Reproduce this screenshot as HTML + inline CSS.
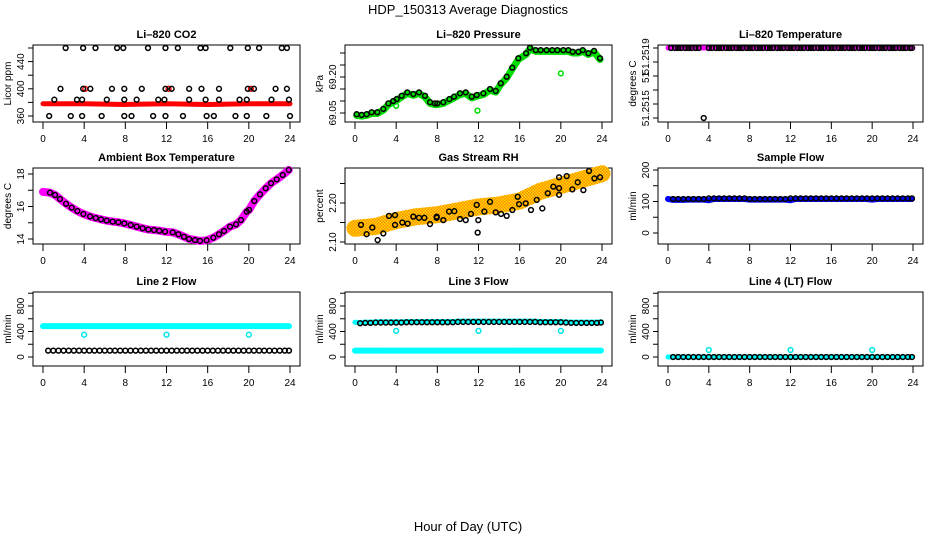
<!DOCTYPE html>
<html><head><meta charset="utf-8"><style>
body{margin:0;background:#fff;}
svg{display:block;font-family:"Liberation Sans",sans-serif;}
.t{font-weight:bold;font-size:11px;}
.tk{font-size:10px;}
</style></head><body>
<svg id="c" width="936" height="540" viewBox="0 0 936 540">
<defs>
<pattern id="rhp" width="3" height="3" patternUnits="userSpaceOnUse"><rect width="3" height="3" fill="#ffdd00"/><rect width="1.5" height="1.5" fill="#ff8800"/><rect x="1.5" y="1.5" width="1.5" height="1.5" fill="#ff8800"/></pattern>
</defs>
<text x="468" y="14" text-anchor="middle" font-size="13">HDP_150313  Average Diagnostics</text>
<text x="468" y="531" text-anchor="middle" font-size="13">Hour of Day (UTC)</text>
</svg>
<script>
// ---- data ----
const xTicks=[0,4,8,12,16,20,24];
const co2Hours=[2.2,3.9,5.1,7.2,7.8,10.2,11.9,13.1,15.3,15.8,18.2,19.9,21.0,23.2,23.7, 1.7,3.9,4.6,6.7,7.9,9.6,11.9,12.5,14.2,15.4,17.1,19.9,20.5,22.6,23.7, 1.1,3.3,3.8,6.2,7.9,9.1,11.2,11.8,14.2,15.8,17.1,19.1,19.8,22.2,23.9, 0.6,2.7,3.8,5.7,7.9,8.6,10.7,11.9,13.6,15.9,16.6,18.7,19.8,21.7,24.0];
const co2Values=[460,460,460,460,460,460,460,460,460,460,460,460,460,460,460, 400,400,400,400,400,400,400,400,400,400,400,400,400,400,400, 384,384,384,384,384,384,384,384,384,384,384,384,384,384,384, 360,360,360,360,360,360,360,360,360,360,360,360,360,360,360];
const co2RedHours=[0,4,8,12,16,20,24];
const co2RedValues=[378,378,377,378,377,378,378];
const co2RedOutHours=[4.1,12.2,20.2];
const co2RedOutValues=[400,400,400];
const co2Ticks=[360,380,400,420,440,460];

const presHours=[0.16,0.65,1.13,1.62,2.17,2.75,3.24,3.72,4.05,4.54,5.08,5.67,6.22,6.8,7.29,7.77,8.0,8.58,9.17,9.62,10.2,10.76,11.34,11.83,12.47,13.12,13.67,14.16,14.74,15.28,15.87,16.62,17.0,17.56,18.04,18.62,19.17,19.66,20.24,20.73,21.15,21.7,22.13,22.68,23.23,23.81];
const presValues=[69.045,69.042,69.045,69.053,69.053,69.067,69.09,69.10,69.108,69.122,69.136,69.129,69.136,69.122,69.095,69.09,69.09,69.095,69.108,69.118,69.132,69.136,69.118,69.125,69.132,69.15,69.142,69.174,69.201,69.239,69.278,69.299,69.322,69.312,69.312,69.312,69.312,69.312,69.312,69.312,69.305,69.305,69.312,69.299,69.309,69.278];
const presGreenOutHours=[4.0,11.9,20.0];
const presGreenOutValues=[69.08,69.06,69.215];
const presTicks=[69.05,69.10,69.15,69.20,69.25,69.30];

const tempHours=[0.3,0.7,1.0,1.3,1.7,2.0,2.3,2.7,3.0,3.5,4.0,4.3,4.7,5.0,5.3,5.7,6.0,6.3,6.7,7.0,7.3,7.7,8.0,8.3,8.7,9.0,9.3,9.7,10.0,10.3,10.7,11.0,11.3,11.7,12.0,12.3,12.7,13.0,13.3,13.7,14.0,14.3,14.7,15.0,15.3,15.7,16.0,16.3,16.7,17.0,17.3,17.7,18.0,18.3,18.7,19.0,19.3,19.7,20.0,20.3,20.7,21.0,21.3,21.7,22.0,22.3,22.7,23.0,23.3,23.7,23.9];
const tempValues=[51.2519,51.2519,51.2519,51.2519,51.2519,51.2519,51.2519,51.2519,51.2519,51.2514,51.2519,51.2519,51.2519,51.2519,51.2519,51.2519,51.2519,51.2519,51.2519,51.2519,51.2519,51.2519,51.2519,51.2519,51.2519,51.2519,51.2519,51.2519,51.2519,51.2519,51.2519,51.2519,51.2519,51.2519,51.2519,51.2519,51.2519,51.2519,51.2519,51.2519,51.2519,51.2519,51.2519,51.2519,51.2519,51.2519,51.2519,51.2519,51.2519,51.2519,51.2519,51.2519,51.2519,51.2519,51.2519,51.2519,51.2519,51.2519,51.2519,51.2519,51.2519,51.2519,51.2519,51.2519,51.2519,51.2519,51.2519,51.2519,51.2519,51.2519,51.2519];
const tempTicks=[51.2514,51.2515,51.2516,51.2517,51.2518,51.2519];

const ambHours=[0.68,1.17,1.65,2.24,2.79,3.34,3.92,4.57,5.12,5.64,6.19,6.77,7.32,7.9,8.52,9.1,9.68,10.24,10.79,11.3,11.86,12.6,13.15,13.7,14.19,14.77,15.26,15.9,16.55,17.1,17.59,18.17,18.76,19.24,19.8,20.02,20.53,21.09,21.64,22.16,22.71,23.29,23.88];
const ambValues=[16.85,16.71,16.46,16.17,15.93,15.72,15.54,15.39,15.29,15.21,15.13,15.07,15.03,14.96,14.86,14.76,14.66,14.58,14.55,14.51,14.45,14.41,14.29,14.14,14.0,13.94,13.88,13.92,14.08,14.29,14.49,14.76,14.9,15.17,15.68,15.79,16.34,16.75,17.12,17.43,17.67,17.94,18.25];
const ambTicks=[14,15,16,17,18];

const rhHours=[0.58,1.13,1.68,2.2,2.75,3.3,3.89,3.89,4.6,5.12,5.67,6.22,6.74,7.29,7.94,7.94,8.58,9.14,9.65,10.2,10.76,11.27,11.83,11.92,11.98,12.57,13.12,13.67,14.19,14.74,15.29,15.81,15.94,16.59,17.1,17.66,18.2,18.73,19.27,19.83,19.83,19.83,20.57,21.12,21.64,22.19,22.74,23.26,23.81];
const rhValues=[2.144,2.120,2.137,2.105,2.122,2.167,2.169,2.144,2.150,2.147,2.165,2.162,2.162,2.146,2.165,2.162,2.156,2.178,2.179,2.159,2.156,2.172,2.195,2.124,2.156,2.178,2.203,2.176,2.172,2.167,2.182,2.216,2.197,2.199,2.182,2.208,2.186,2.225,2.242,2.266,2.221,2.238,2.269,2.235,2.253,2.233,2.282,2.263,2.266];
const rhBandHours=[0,2,4,6,8,10,12,14,16,18,20,22,24];
const rhBandValues=[2.135,2.14,2.155,2.165,2.17,2.18,2.19,2.195,2.205,2.23,2.245,2.26,2.275];
const rhTicks=[2.10,2.15,2.20,2.25];

const flowHours=[0.5,1,1.5,2,2.5,3,3.5,4,4.5,5,5.5,6,6.5,7,7.5,8,8.5,9,9.5,10,10.5,11,11.5,12,12.5,13,13.5,14,14.5,15,15.5,16,16.5,17,17.5,18,18.5,19,19.5,20,20.5,21,21.5,22,22.5,23,23.5,23.9];
const sampleValues=[108,108,108,108,108,108,108,110,110,110,110,110,110,110,110,108,108,108,108,108,108,108,108,110,110,110,110,110,110,110,110,110,110,110,110,110,110,110,110,110,110,110,110,110,110,110,110,110];
const sampleBandValues=[105,105,105,106,106,106,106,104,108,108,108,108,108,108,108,106,106,106,106,106,106,106,106,104,108,108,108,108,108,108,108,108,108,108,108,108,108,108,108,106,108,108,108,108,108,108,108,108];
const sampleTicks=[0,50,100,150,200];

const line2Black=[100,100,100,100,100,100,100,100,100,100,100,100,100,100,100,100,100,100,100,100,100,100,100,100,100,100,100,100,100,100,100,100,100,100,100,100,100,100,100,100,100,100,100,100,100,100,100,100];
const line2Cyan=[485,485,485,485,485,485,485,485,485,485,485,485,485,485,485,485,485,485,485,485,485,485,485,485,485,485,485,485,485,485,485,485,485,485,485,485,485,485,485,485,485,485,485,485,485,485,485,485];
const line2OutHours=[4,12,20];
const line2OutValues=[350,350,350];

const line3Black=[530,535,535,540,540,540,540,540,540,545,545,545,545,545,545,545,545,545,545,550,550,550,550,550,550,550,550,550,550,550,550,550,550,550,550,545,545,545,545,545,540,535,535,535,535,535,535,540];
const line3CyanLow=[100,100,100,100,100,100,100,100,100,100,100,100,100,100,100,100,100,100,100,100,100,100,100,100,100,100,100,100,100,100,100,100,100,100,100,100,100,100,100,100,100,100,100,100,100,100,100,100];
const line3OutHours=[4,12,20];
const line3OutValues=[410,410,410];

const line4Black=[0,0,0,0,0,0,0,0,0,0,0,0,0,0,0,0,0,0,0,0,0,0,0,0,0,0,0,0,0,0,0,0,0,0,0,0,0,0,0,0,0,0,0,0,0,0,0,0];
const line4OutHours=[4,12,20];
const line4OutValues=[110,110,110];
const flowTicks=[0,200,400,600,800,1000];

// ---- layout ----
const NS='http://www.w3.org/2000/svg';
const svg=document.getElementById('c');
const cols=[{x0:43,x1:290,bl:33,br:300},{x0:355,x1:602,bl:345,br:612},{x0:668,x1:913,bl:658,br:923}];
const rows=[{t:45,b:122},{t:168,b:244},{t:292,b:366}];
function el(tag,attrs,parent){const e=document.createElementNS(NS,tag);for(const k in attrs)e.setAttribute(k,attrs[k]);(parent||svg).appendChild(e);return e;}

function panel(ci,ri,title,ylab,v0,p0,v1,p1,ticks,labels,name){
  const c=cols[ci],r=rows[ri];
  const g=el('g',{});
  
  
  const sx=h=>c.x0+(c.x1-c.x0)*h/24;
  const sy=v=>p0+(p1-p0)*(v-v0)/(v1-v0);
  const box=el('rect',{x:c.bl,y:r.t,width:c.br-c.bl,height:r.b-r.t,fill:'none',stroke:'#000','stroke-width':1},g);
  
  
  const tt=el('text',{x:(c.bl+c.br)/2,y:r.t-7,'text-anchor':'middle',class:'t'},g);tt.textContent=title;
  
  
  xTicks.forEach(h=>{
    el('line',{x1:sx(h),x2:sx(h),y1:r.b,y2:r.b+7,stroke:'#000'},g);
    const t=el('text',{x:sx(h),y:r.b+20,'text-anchor':'middle',class:'tk'},g);t.textContent=h;
    
    
  });
  ticks.forEach(v=>{
    const y=sy(v); if(y<r.t-1||y>r.b+1)return;
    el('line',{x1:c.bl-5,x2:c.bl,y1:y,y2:y,stroke:'#000'},g);
  });
  labels.forEach(([v,s])=>{
    const y=sy(v);
    const t=el('text',{x:c.bl-9,y:y,'text-anchor':'middle',class:'tk',transform:`rotate(-90 ${c.bl-9} ${y})`},g);t.textContent=s;
    
    
  });
  const yl=el('text',{x:c.bl-22,y:(r.t+r.b)/2,'text-anchor':'middle',class:'tk',transform:`rotate(-90 ${c.bl-22} ${(r.t+r.b)/2})`},g);yl.textContent=ylab;
  
  
  return {g,sx,sy};
}
function band(p,hs,vs,color,w,nm){
  const pl=el('polyline',{points:hs.map((h,i)=>p.sx(h)+','+p.sy(vs[i])).join(' '),fill:'none',stroke:color,'stroke-width':w,'stroke-linecap':'round','stroke-linejoin':'round'},p.g);
  
  
}
function pts(p,hs,vs,color,nm,r,sw){
  hs.forEach((h,i)=>{
    const c=el('circle',{cx:p.sx(h),cy:p.sy(vs[i]),r:r||2.4,fill:'none',stroke:color,'stroke-width':sw||1.5},p.g);
    
    
  });
}

// CO2
let p=panel(0,0,'Li\u2013820 CO2','Licor ppm',360,116,460,48,co2Ticks,[[360,'360'],[400,'400'],[440,'440']],'co2');
band(p,co2RedHours,co2RedValues,'#ff0000',5,'co2-red-band');
pts(p,co2RedOutHours,co2RedOutValues,'#ff0000','co2-red-point');
pts(p,co2Hours,co2Values,'#000','co2-point');

// Pressure
p=panel(1,0,'Li\u2013820 Pressure','kPa',69.05,113,69.20,77,presTicks,[[69.05,'69.05'],[69.20,'69.20']],'pressure');
band(p,presHours,presValues.map(v=>v-0.005),'#00dd00',7,'pressure-green-band');
pts(p,presGreenOutHours,presGreenOutValues,'#00dd00','pressure-green-point');
pts(p,presHours,presValues,'#000','pressure-point');

// Temperature
p=panel(2,0,'Li\u2013820 Temperature','degrees C',51.2514,118,51.2519,48,tempTicks,[[51.25184,'51.2519'],[51.25169,'51'],[51.25147,'51.2515']],'temperature');
band(p,[0,24],[51.2519,51.2519],'#ff00ff',5,'temperature-magenta-band');
pts(p,tempHours,tempValues,'#000','temperature-point');

// Ambient
p=panel(0,1,'Ambient Box Temperature','degrees C',14,239,18,174,ambTicks,[[14,'14'],[16,'16'],[18,'18']],'ambient');
band(p,[0].concat(ambHours),[16.9].concat(ambValues),'#ff00ff',8,'ambient-magenta-band');
pts(p,ambHours,ambValues,'#000','ambient-point');

// RH
p=panel(1,1,'Gas Stream RH','percent',2.10,242,2.20,203,rhTicks,[[2.10,'2.10'],[2.20,'2.20']],'rh');
band(p,rhBandHours,rhBandValues,'url(#rhp)',17,'rh-orange-band');
pts(p,rhHours,rhValues,'#000','rh-point');

// Sample flow
p=panel(2,1,'Sample Flow','ml/min',0,233,200,170,sampleTicks,[[0,'0'],[100,'100'],[200,'200']],'sample-flow');
band(p,[0].concat(flowHours),[108].concat(sampleBandValues),'#0000ff',6,'sample-flow-blue-band');
pts(p,flowHours,sampleValues,'#000','sample-flow-point');

// Line 2
p=panel(0,2,'Line 2 Flow','ml/min',0,357,800,306,flowTicks,[[0,'0'],[400,'400'],[800,'800']],'line2');
band(p,[0].concat(flowHours),[485].concat(line2Cyan),'#00ffff',6,'line2-cyan-band');
pts(p,line2OutHours,line2OutValues,'#00e5e5','line2-cyan-point');
pts(p,flowHours,line2Black,'#000','line2-point');

// Line 3
p=panel(1,2,'Line 3 Flow','ml/min',0,357,800,306,flowTicks,[[0,'0'],[400,'400'],[800,'800']],'line3');
band(p,[0].concat(flowHours),[100].concat(line3CyanLow),'#00ffff',6,'line3-cyan-band');
band(p,[0].concat(flowHours),[545].concat(line3Black.map(v=>v+12)),'#00ffff',5,'line3-cyan-high-band');
pts(p,line3OutHours,line3OutValues,'#00e5e5','line3-cyan-point');
pts(p,flowHours,line3Black,'#000','line3-point');

// Line 4
p=panel(2,2,'Line 4 (LT) Flow','ml/min',0,357,800,306,flowTicks,[[0,'0'],[400,'400'],[800,'800']],'line4');
band(p,[0].concat(flowHours),[0].concat(line4Black),'#00ffff',5,'line4-cyan-band');
pts(p,line4OutHours,line4OutValues,'#00e5e5','line4-cyan-point');
pts(p,flowHours,line4Black,'#000','line4-point');
</script>
</body></html>
